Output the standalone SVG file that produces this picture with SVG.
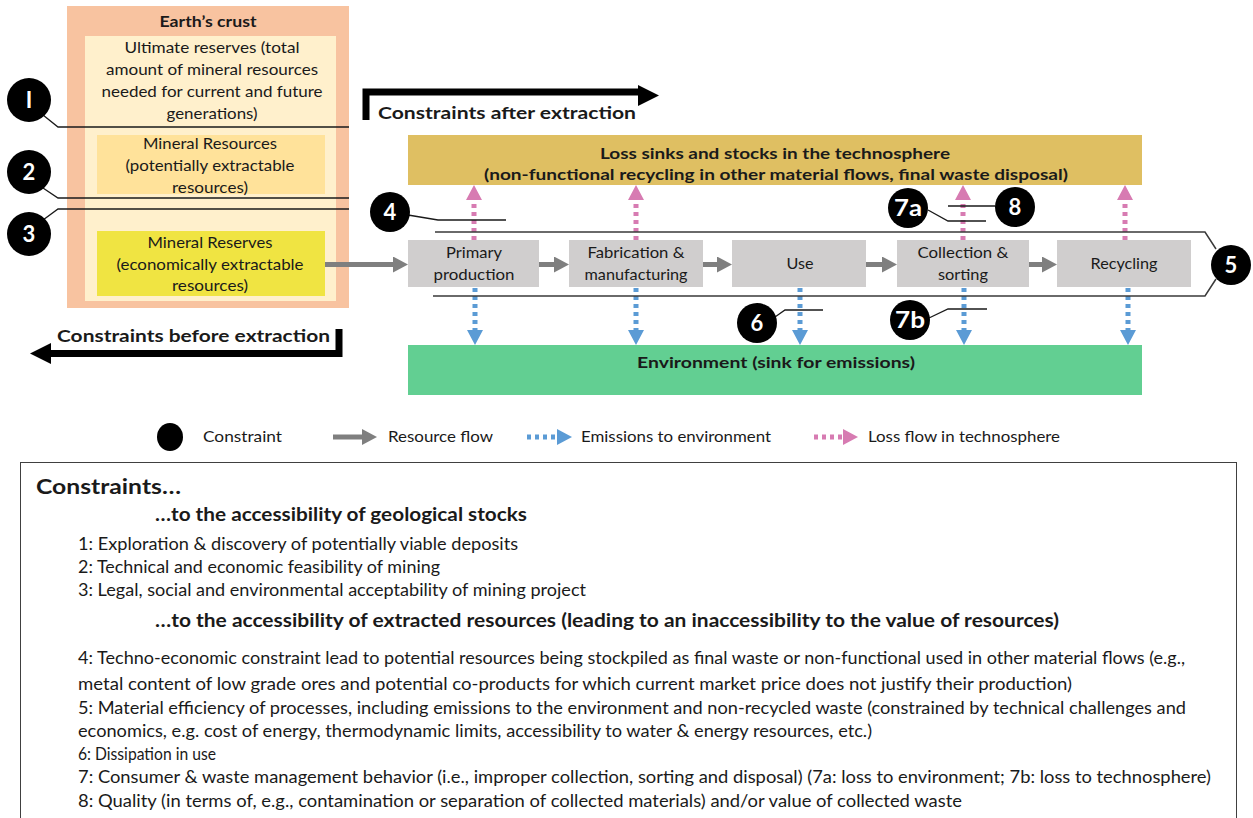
<svg xmlns="http://www.w3.org/2000/svg" width="1253" height="818" viewBox="0 0 1253 818">
<style>
text{font-family:Lato,"Open Sans","Liberation Sans",sans-serif;fill:#1a1a1a}
.b{font-weight:bold}
.c{text-anchor:middle}
.n{font-size:15px}
.num{font-size:22px;font-weight:bold;fill:#fff;text-anchor:middle}
.ln{fill:none;stroke:#1a1a1a;stroke-width:1.3}
.br{fill:none;stroke:#3a3a3a;stroke-width:1.5}
.res{stroke:#7f7f7f;stroke-width:5;fill:none}
.emi{stroke:#5b9bd5;stroke-width:5;stroke-dasharray:4 4;fill:none}
.los{stroke:#d77bb2;stroke-width:5;stroke-dasharray:4 4;fill:none}
.proc{fill:#d0cece}
.t{font-size:17.5px}
</style>
<defs>
<marker id="mg" markerUnits="userSpaceOnUse" viewBox="0 -8 15 16" markerWidth="15" markerHeight="16" refX="0" refY="0" orient="auto"><path d="M0,-8 L15,0 L0,8 z" fill="#7f7f7f"/></marker>
<marker id="mb" markerUnits="userSpaceOnUse" viewBox="0 -8 15 16" markerWidth="15" markerHeight="16" refX="0" refY="0" orient="auto"><path d="M0,-8 L15,0 L0,8 z" fill="#5b9bd5"/></marker>
<marker id="mp" markerUnits="userSpaceOnUse" viewBox="0 -8 15 16" markerWidth="15" markerHeight="16" refX="0" refY="0" orient="auto"><path d="M0,-8 L15,0 L0,8 z" fill="#d77bb2"/></marker>
</defs>

<g id="earth-crust">
<rect x="67" y="6" width="282" height="302" fill="#f8c3a0"/>
<rect x="85" y="36" width="251" height="265" fill="#fff0cc"/>
<text class="b c n" x="208" y="27" textLength="97" lengthAdjust="spacingAndGlyphs">Earth’s crust</text>
<text class="c n" x="212" y="53" textLength="175" lengthAdjust="spacingAndGlyphs">Ultimate reserves (total</text>
<text class="c n" x="212" y="75" textLength="212" lengthAdjust="spacingAndGlyphs">amount of mineral resources</text>
<text class="c n" x="212" y="97" textLength="221" lengthAdjust="spacingAndGlyphs">needed for current and future</text>
<text class="c n" x="212" y="119" textLength="91" lengthAdjust="spacingAndGlyphs">generations)</text>
</g>
<g id="mineral-resources">
<rect x="97" y="135" width="228" height="59" fill="#ffe29a"/>
<text class="c n" x="210" y="149" textLength="134" lengthAdjust="spacingAndGlyphs">Mineral Resources</text>
<text class="c n" x="210" y="171" textLength="169" lengthAdjust="spacingAndGlyphs">(potentially extractable</text>
<text class="c n" x="210" y="193" textLength="76" lengthAdjust="spacingAndGlyphs">resources)</text>
</g>
<g id="mineral-reserves">
<rect x="97" y="231" width="228" height="65" fill="#f0e442"/>
<text class="c n" x="210" y="248" textLength="125" lengthAdjust="spacingAndGlyphs">Mineral Reserves</text>
<text class="c n" x="210" y="270" textLength="187" lengthAdjust="spacingAndGlyphs">(economically extractable</text>
<text class="c n" x="210" y="291" textLength="76" lengthAdjust="spacingAndGlyphs">resources)</text>
</g>

<g id="after-extraction">
<path d="M366,120 V92 H640" fill="none" stroke="#000" stroke-width="7"/>
<path d="M638,85 L659,95.5 L638,106 z" fill="#000"/>
<text class="b" x="378" y="119" font-size="17" textLength="258" lengthAdjust="spacingAndGlyphs">Constraints after extraction</text>
</g>
<g id="before-extraction">
<path d="M339,329 V353.5 H48" fill="none" stroke="#000" stroke-width="7"/>
<path d="M51,343 L30,353.5 L51,364 z" fill="#000"/>
<text class="b" x="57" y="342" font-size="17" textLength="273" lengthAdjust="spacingAndGlyphs">Constraints before extraction</text>
</g>

<g id="loss-sinks">
<rect x="408" y="135" width="734" height="50" fill="#dfbf62"/>
<text class="b c" x="775" y="159" font-size="16" textLength="350" lengthAdjust="spacingAndGlyphs">Loss sinks and stocks in the technosphere</text>
<text class="b c" x="776" y="180" font-size="16" textLength="584" lengthAdjust="spacingAndGlyphs">(non-functional recycling in other material flows, final waste disposal)</text>
</g>
<g id="environment">
<rect x="408" y="345" width="734" height="50" fill="#62cf92"/>
<text class="b c" x="776" y="368" font-size="16" textLength="278" lengthAdjust="spacingAndGlyphs">Environment (sink for emissions)</text>
</g>

<g id="primary-production">
<rect class="proc" x="408" y="240" width="131" height="47"/>
<text class="c n" x="474" y="258" textLength="56" lengthAdjust="spacingAndGlyphs">Primary</text>
<text class="c n" x="474" y="280" textLength="81" lengthAdjust="spacingAndGlyphs">production</text>
</g>
<g id="fabrication">
<rect class="proc" x="569" y="240" width="134" height="47"/>
<text class="c n" x="636" y="258" textLength="97" lengthAdjust="spacingAndGlyphs">Fabrication &amp;</text>
<text class="c n" x="636" y="280" textLength="103" lengthAdjust="spacingAndGlyphs">manufacturing</text>
</g>
<g id="use">
<rect class="proc" x="732" y="240" width="134" height="47"/>
<text class="c n" x="800" y="269" textLength="27" lengthAdjust="spacingAndGlyphs">Use</text>
</g>
<g id="collection">
<rect class="proc" x="897" y="240" width="132" height="47"/>
<text class="c n" x="963" y="258" textLength="91" lengthAdjust="spacingAndGlyphs">Collection &amp;</text>
<text class="c n" x="963" y="280" textLength="50" lengthAdjust="spacingAndGlyphs">sorting</text>
</g>
<g id="recycling">
<rect class="proc" x="1057" y="240" width="134" height="47"/>
<text class="c n" x="1124" y="269" textLength="67" lengthAdjust="spacingAndGlyphs">Recycling</text>
</g>

<g id="connectors">
<line class="res" x1="325" y1="264.5" x2="393" y2="264.5" marker-end="url(#mg)"/>
<line class="res" x1="539" y1="264.5" x2="554" y2="264.5" marker-end="url(#mg)"/>
<line class="res" x1="703" y1="264.5" x2="717" y2="264.5" marker-end="url(#mg)"/>
<line class="res" x1="866" y1="264.5" x2="882" y2="264.5" marker-end="url(#mg)"/>
<line class="res" x1="1029" y1="264.5" x2="1042" y2="264.5" marker-end="url(#mg)"/>
<line class="los" x1="474" y1="240" x2="474" y2="200" marker-end="url(#mp)"/>
<line class="los" x1="636" y1="240" x2="636" y2="200" marker-end="url(#mp)"/>
<line class="los" x1="963" y1="240" x2="963" y2="200" marker-end="url(#mp)"/>
<line class="los" x1="1125" y1="240" x2="1125" y2="200" marker-end="url(#mp)"/>
<line class="emi" x1="475" y1="288" x2="475" y2="330" marker-end="url(#mb)"/>
<line class="emi" x1="636" y1="288" x2="636" y2="330" marker-end="url(#mb)"/>
<line class="emi" x1="800" y1="288" x2="800" y2="330" marker-end="url(#mb)"/>
<line class="emi" x1="964" y1="288" x2="964" y2="330" marker-end="url(#mb)"/>
<line class="emi" x1="1128" y1="288" x2="1128" y2="330" marker-end="url(#mb)"/>
<path class="br" d="M435,232 H1205 L1216,249"/>
<path class="br" d="M433,296 H1205 L1216,279"/>
<path class="ln" d="M43,115 L58,127 H349"/>
<path class="ln" d="M43,188 L58,198 H349"/>
<path class="ln" d="M43,220 L58,209 H349"/>
<path class="ln" d="M408,215 L438,220 H506"/>
<path class="ln" d="M775,317 L785,310 H823"/>
<path class="ln" d="M929,318 L948,309 H987"/>
<path class="ln" d="M928,210 L948,221 H986"/>
<path class="ln" d="M995,206 H948"/>
</g>

<g id="c1"><circle cx="29" cy="100" r="22"/><text class="num" x="29" y="108">I</text></g>
<g id="c2"><circle cx="29" cy="172" r="22"/><text class="num" x="29" y="180">2</text></g>
<g id="c3"><circle cx="29" cy="234" r="22"/><text class="num" x="29" y="242">3</text></g>
<g id="c4"><circle cx="390" cy="212" r="20"/><text class="num" x="390" y="220">4</text></g>
<g id="c5"><circle cx="1231" cy="265" r="20"/><text class="num" x="1231" y="273">5</text></g>
<g id="c6"><circle cx="757" cy="323" r="20"/><text class="num" x="757" y="331">6</text></g>
<g id="c7a"><circle cx="908" cy="208" r="20"/><text class="num" x="908" y="216" textLength="28" lengthAdjust="spacingAndGlyphs">7a</text></g>
<g id="c7b"><circle cx="910" cy="320" r="20"/><text class="num" x="910" y="328" textLength="30" lengthAdjust="spacingAndGlyphs">7b</text></g>
<g id="c8"><circle cx="1015" cy="207" r="20"/><text class="num" x="1015" y="215">8</text></g>

<g id="legend">
<ellipse cx="170" cy="437" rx="13" ry="14"/>
<text x="203" y="442" font-size="15" textLength="79" lengthAdjust="spacingAndGlyphs">Constraint</text>
<line class="res" x1="333" y1="437" x2="362" y2="437" marker-end="url(#mg)"/>
<text x="388" y="442" font-size="15" textLength="105" lengthAdjust="spacingAndGlyphs">Resource flow</text>
<line class="emi" x1="527" y1="437" x2="557" y2="437" marker-end="url(#mb)"/>
<text x="581" y="442" font-size="15" textLength="190" lengthAdjust="spacingAndGlyphs">Emissions to environment</text>
<line class="los" x1="814" y1="437" x2="843" y2="437" marker-end="url(#mp)"/>
<text x="868" y="442" font-size="15" textLength="192" lengthAdjust="spacingAndGlyphs">Loss flow in technosphere</text>
</g>

<g id="constraints-box">
<rect x="20.5" y="462.5" width="1216" height="360" fill="#fff" stroke="#404040" stroke-width="1"/>
<text class="b" x="36" y="494" font-size="20" textLength="145" lengthAdjust="spacingAndGlyphs">Constraints…</text>
<text class="b" x="155" y="521" font-size="18" textLength="372" lengthAdjust="spacingAndGlyphs">…to the accessibility of geological stocks</text>
<text class="t" x="78" y="550" textLength="440" lengthAdjust="spacingAndGlyphs">1: Exploration &amp; discovery of potentially viable deposits</text>
<text class="t" x="78" y="573" textLength="362" lengthAdjust="spacingAndGlyphs">2: Technical and economic feasibility of mining</text>
<text class="t" x="78" y="596" textLength="508" lengthAdjust="spacingAndGlyphs">3: Legal, social and environmental acceptability of mining project</text>
<text class="b" x="155" y="627" font-size="18" textLength="904" lengthAdjust="spacingAndGlyphs">…to the accessibility of extracted resources (leading to an inaccessibility to the value of resources)</text>
<text class="t" x="78" y="664" textLength="1107" lengthAdjust="spacingAndGlyphs">4: Techno-economic constraint lead to potential resources being stockpiled as final waste or non-functional used in other material flows (e.g.,</text>
<text class="t" x="78" y="690" textLength="994" lengthAdjust="spacingAndGlyphs">metal content of low grade ores and potential co-products for which current market price does not justify their production)</text>
<text class="t" x="78" y="714" textLength="1108" lengthAdjust="spacingAndGlyphs">5: Material efficiency of processes, including emissions to the environment and non-recycled waste (constrained by technical challenges and</text>
<text class="t" x="78" y="737" textLength="794" lengthAdjust="spacingAndGlyphs">economics, e.g. cost of energy, thermodynamic limits, accessibility to water &amp; energy resources, etc.)</text>
<text class="t" x="78" y="760" textLength="138" lengthAdjust="spacingAndGlyphs">6: Dissipation in use</text>
<text class="t" x="78" y="783" textLength="1133" lengthAdjust="spacingAndGlyphs">7: Consumer &amp; waste management behavior (i.e., improper collection, sorting and disposal) (7a: loss to environment; 7b: loss to technosphere)</text>
<text class="t" x="78" y="807" textLength="884" lengthAdjust="spacingAndGlyphs">8: Quality (in terms of, e.g., contamination or separation of collected materials) and/or value of collected waste</text>
</g>
</svg>
